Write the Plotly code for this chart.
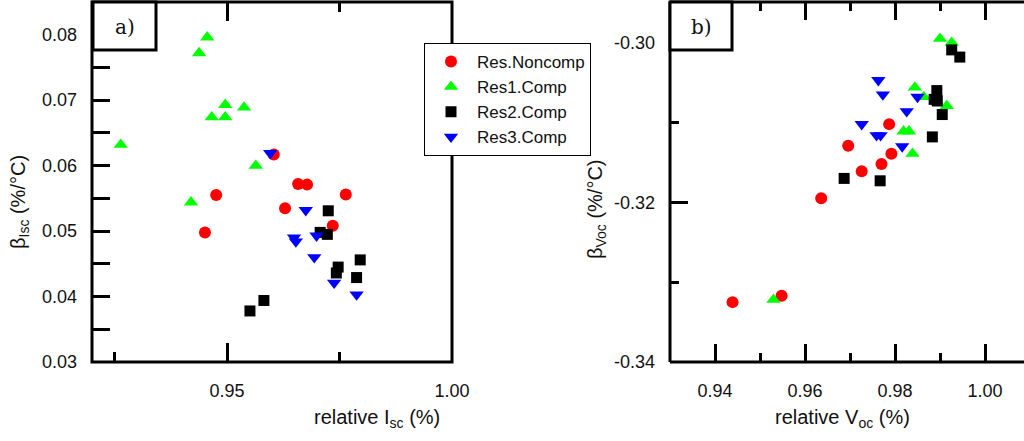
import plotly.graph_objects as go

# ---- data: panel a) relative Isc vs beta_Isc ----
a_noncomp_x = [0.9604, 0.9658, 0.9678, 0.9476, 0.9764, 0.9451, 0.9629, 0.9735]
a_noncomp_y = [0.0617, 0.0572, 0.0571, 0.0555, 0.0556, 0.0498, 0.0535, 0.0508]

a_res1_x = [0.9456, 0.9438, 0.9496, 0.9466, 0.9496, 0.9538, 0.9264, 0.9564, 0.9420]
a_res1_y = [0.0796, 0.0772, 0.0693, 0.0674, 0.0674, 0.0689, 0.0632, 0.0600, 0.0544]

a_res2_x = [0.9725, 0.9707, 0.9723, 0.9747, 0.9743, 0.9796, 0.9788, 0.9551, 0.9582]
a_res2_y = [0.0531, 0.0498, 0.0495, 0.0445, 0.0436, 0.0456, 0.0429, 0.0378, 0.0394]

a_res3_x = [0.9596, 0.9675, 0.9649, 0.9653, 0.9699, 0.9694, 0.9738, 0.9788]
a_res3_y = [0.0619, 0.0532, 0.0490, 0.0484, 0.0493, 0.0460, 0.0421, 0.0403]

# ---- data: panel b) relative Voc vs beta_Voc ----
b_noncomp_x = [0.9439, 0.9548, 0.9636, 0.9696, 0.9726, 0.9770, 0.9792, 0.9787]
b_noncomp_y = [-0.3325, -0.3317, -0.3195, -0.3129, -0.3161, -0.3152, -0.3139, -0.3102]

b_res1_x = [0.9530, 0.9900, 0.9926, 0.9844, 0.9864, 0.9915, 0.9819, 0.9831, 0.9839]
b_res1_y = [-0.3322, -0.2995, -0.3000, -0.3056, -0.3068, -0.3079, -0.3111, -0.3111, -0.3139]

b_res2_x = [0.9926, 0.9944, 0.9893, 0.9887, 0.9894, 0.9905, 0.9883, 0.9687, 0.9767]
b_res2_y = [-0.3009, -0.3018, -0.3060, -0.3071, -0.3073, -0.3090, -0.3118, -0.3170, -0.3173]

b_res3_x = [0.9763, 0.9773, 0.9850, 0.9826, 0.9726, 0.9759, 0.9768, 0.9816]
b_res3_y = [-0.3047, -0.3065, -0.3068, -0.3086, -0.3102, -0.3116, -0.3116, -0.3130]

series_names = ["Res.Noncomp", "Res1.Comp", "Res2.Comp", "Res3.Comp"]

# ---- tick definitions ----
a_xticks = [0.95, 1.00]
a_xlabels = ["0.95", "1.00"]
a_xminor = [0.925, 0.975]
a_yticks = [0.03, 0.035, 0.04, 0.045, 0.05, 0.055, 0.06, 0.065, 0.07, 0.075, 0.08]
a_ylabels = ["0.03", "", "0.04", "", "0.05", "", "0.06", "", "0.07", "", "0.08"]
a_ymajor = [0.03, 0.04, 0.05, 0.06, 0.07, 0.08]
a_yminor = [0.035, 0.045, 0.055, 0.065, 0.075]
b_xticks = [0.94, 0.96, 0.98, 1.00]
b_xlabels = ["0.94", "0.96", "0.98", "1.00"]
b_xminor = [0.95, 0.97, 0.99]
b_yticks = [-0.34, -0.32, -0.30]
b_ylabels = ["-0.34", "-0.32", "-0.30"]
b_yminor = [-0.33, -0.31]

W, H = 1024, 441
A_X = [92 / W, 452 / W]
B_X = [670 / W, 1.0]
Y_DOM = [(H - 362) / H, (H - 2) / H]
B_XRANGE = [0.93, 0.93 + 354 / 4500]

styles = [
    dict(symbol="circle", size=12, color="#ff0000"),
    dict(symbol="triangle-up", size=12.5, color="#00ff00"),
    dict(symbol="square", size=11, color="#000000"),
    dict(symbol="triangle-down", size=12.5, color="#0000ff"),
]

a_data = [(a_noncomp_x, a_noncomp_y), (a_res1_x, a_res1_y),
          (a_res2_x, a_res2_y), (a_res3_x, a_res3_y)]
b_data = [(b_noncomp_x, b_noncomp_y), (b_res1_x, b_res1_y),
          (b_res2_x, b_res2_y), (b_res3_x, b_res3_y)]

fig = go.Figure()
for name, st, (ax, ay), (bx, by) in zip(series_names, styles, a_data, b_data):
    mk = dict(symbol=st["symbol"], size=st["size"], color=st["color"], line=dict(width=0))
    fig.add_trace(go.Scatter(x=ax, y=ay, mode="markers", name=name, marker=mk,
                             legendgroup=name, xaxis="x", yaxis="y"))
    fig.add_trace(go.Scatter(x=bx, y=by, mode="markers", name=name, marker=mk,
                             legendgroup=name, showlegend=False, xaxis="x2", yaxis="y2"))

TICK_FONT = dict(family="Liberation Sans, Arial, sans-serif", size=18, color="#111111")
TW = 2.5


def minor(vals, length):
    return dict(tickvals=vals, ticks="inside", ticklen=length, tickwidth=TW, tickcolor="black")


common = dict(showgrid=False, zeroline=False, showline=False, automargin=False,
              ticks="inside", tickcolor="black", tickwidth=TW, tickfont=TICK_FONT)

fig.update_layout(
    width=W, height=H,
    margin=dict(l=0, r=0, t=0, b=0, autoexpand=False),
    paper_bgcolor="white", plot_bgcolor="white",
    # panel a axes
    xaxis=dict(domain=A_X, range=[0.92, 1.00], anchor="y",
               tickvals=a_xticks, ticktext=a_xlabels, ticklen=19,
               mirror="ticks", ticklabelstandoff=16, minor=minor(a_xminor, 10),
               **common),
    yaxis=dict(domain=Y_DOM, range=[0.03, 0.085], anchor="x",
               tickvals=a_yticks, ticktext=a_ylabels, ticklen=18,
               ticklabelstandoff=14, **common),
    yaxis3=dict(domain=Y_DOM, range=[0.03, 0.085], anchor="x", overlaying="y",
                side="right", tickvals=a_ymajor, ticklen=18, showticklabels=False,
                minor=minor(a_yminor, 9), **common),
    # panel b axes
    xaxis2=dict(domain=B_X, range=B_XRANGE, anchor="y2",
                tickvals=b_xticks, ticktext=b_xlabels, ticklen=18,
                mirror="ticks", ticklabelstandoff=16, minor=minor(b_xminor, 9),
                **common),
    yaxis2=dict(domain=Y_DOM, range=[-0.34, -0.2949], anchor="x2",
                tickvals=b_yticks, ticktext=b_ylabels, ticklen=18,
                ticklabelstandoff=14, minor=minor(b_yminor, 9), **common),
    yaxis4=dict(domain=Y_DOM, range=[-0.34, -0.2949], anchor="x2", overlaying="y2",
                side="right", tickvals=b_yticks, ticklen=13, showticklabels=False,
                minor=minor(b_yminor, 5), **common),
    legend=dict(x=424 / W, y=1 - 43 / H, xanchor="left", yanchor="top",
                bgcolor="white", bordercolor="black", borderwidth=1,
                font=dict(family="Liberation Sans, Arial, sans-serif", size=17,
                          color="#111111"),
                itemwidth=42, entrywidth=125, tracegroupgap=0),
    showlegend=True,
)

# frame lines (panel b's right edge lies just beyond the page)
FRAME = dict(color="black", width=3)
fig.add_shape(type="rect", xref="x domain", yref="y domain", x0=0, x1=1, y0=0, y1=1,
              line=FRAME, layer="above")
for x0, x1, y0, y1 in [(0, 0, 0, 1), (0, 1.05, 0, 0), (0, 1.05, 1, 1)]:
    fig.add_shape(type="line", xref="x2 domain", yref="y2 domain",
                  x0=x0, x1=x1, y0=y0, y1=y1, line=FRAME, layer="above")

TITLE_FONT = dict(family="Liberation Sans, Arial, sans-serif", size=20, color="#111111")


def label(text, px, py, angle=0, font=TITLE_FONT):
    fig.add_annotation(text=text, x=px / W, y=1 - py / H, xref="paper", yref="paper",
                       xanchor="center", yanchor="middle", showarrow=False,
                       textangle=angle, font=font)


# axis titles
label("relative I<sub>sc</sub> (%)", 377, 418)
label("relative V<sub>oc</sub> (%)", 842, 418)
label("β<sub>Isc</sub> (%/°C)", 19, 202, -90)
label("β<sub>Voc</sub> (%/°C)", 597, 209, -90)

# panel labels in framed boxes
LABEL_FONT = dict(family="DejaVu Serif, Liberation Serif, serif", size=20, color="#111111")
for (x0, x1), lab in [((93, 156), "a)"), ((670, 732), "b)")]:
    fig.add_shape(type="rect", xref="paper", yref="paper",
                  x0=x0 / W, x1=x1 / W, y0=1 - 50 / H, y1=1 - 2 / H,
                  line=FRAME, fillcolor="white", layer="above")
    label(lab, (x0 + x1) / 2, 27, font=LABEL_FONT)

fig.write_html("out.html")
